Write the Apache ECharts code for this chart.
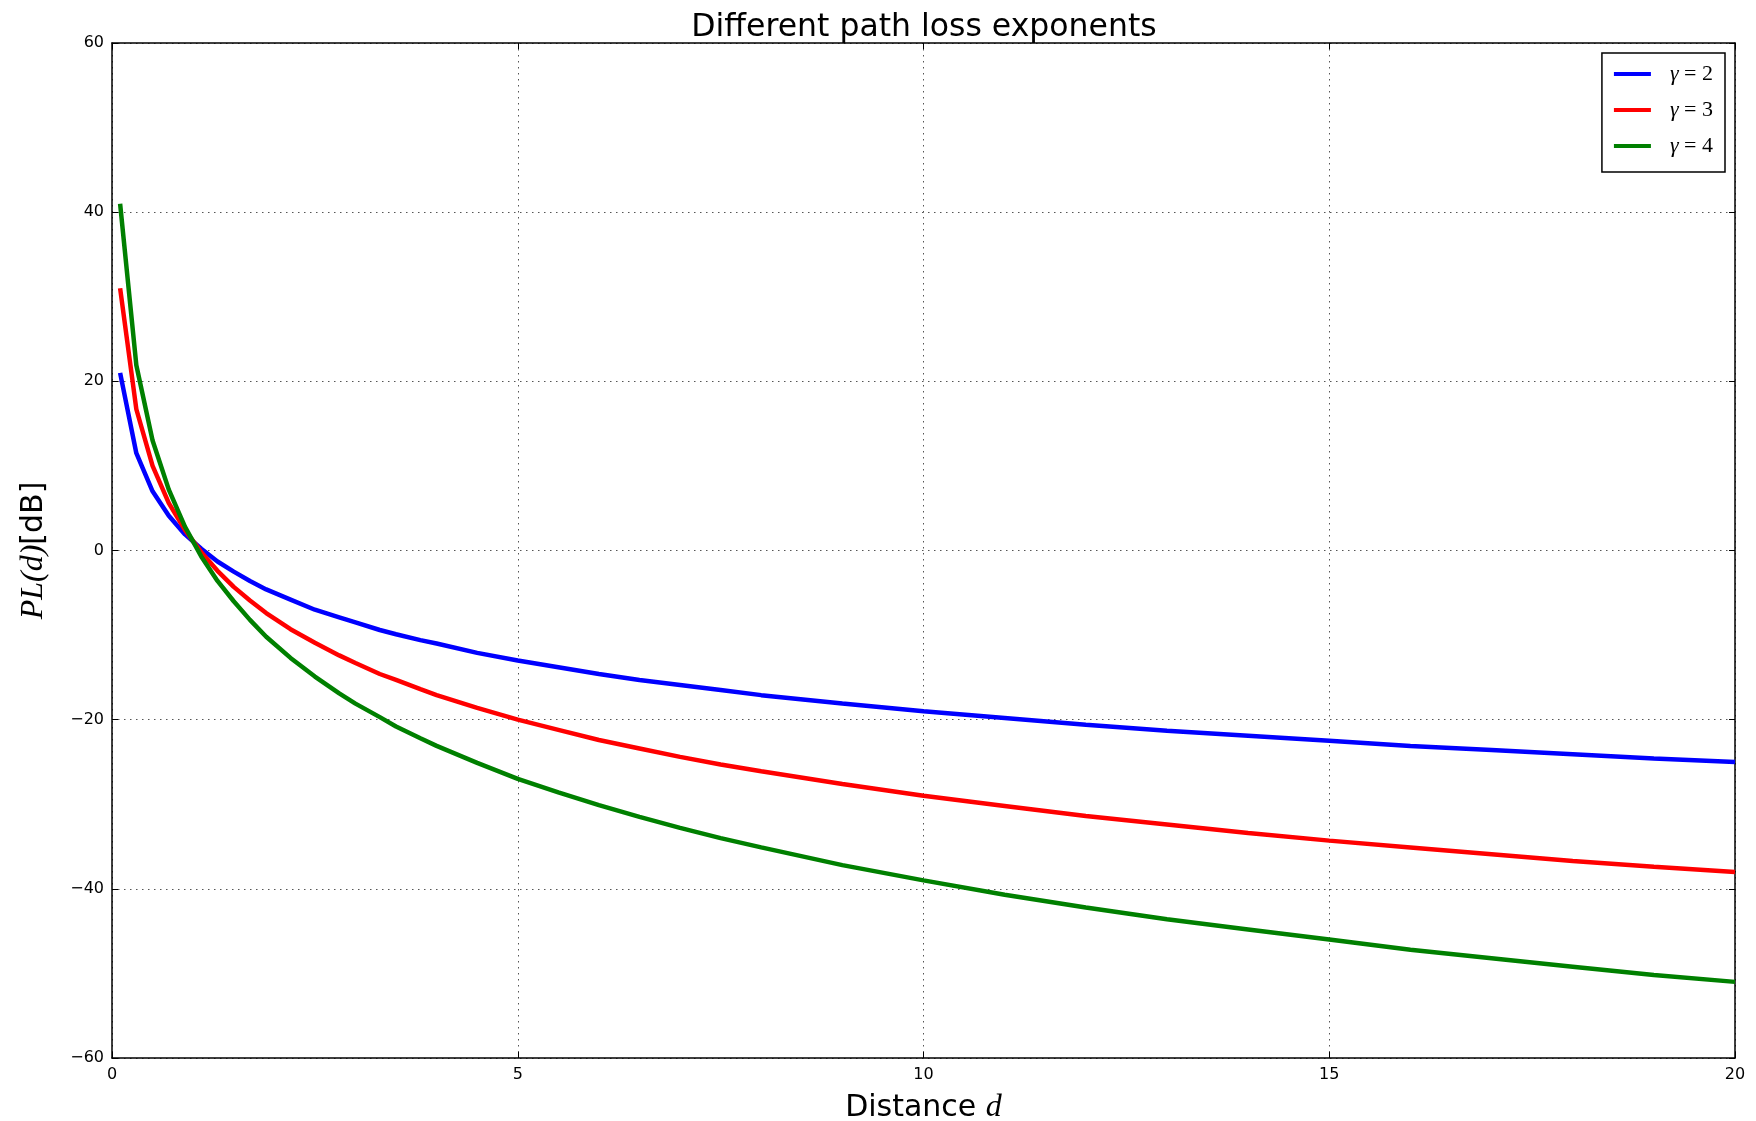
<!DOCTYPE html>
<html>
<head>
<meta charset="utf-8">
<script src="https://cdn.jsdelivr.net/npm/echarts@6/dist/echarts.min.js"></script>
<style>
html,body{margin:0;padding:0;background:#fff;}
#chart{width:1756px;height:1121px;}
</style>
</head>
<body>
<div id="chart"></div>
<script>
// Distance samples d
const distance = [0.1,0.3,0.5,0.7,0.9,1.1,1.3,1.5,1.7,1.9,2.2,2.5,2.8,3,3.3,3.5,3.8,4,4.5,5,5.5,6,6.5,7,7.5,8,9,10,11,12,13,14,15,16,17,18,19,20];
// PL(d) [dB] for gamma = 2
const pl_gamma2 = [21.0,11.5,7.0,4.1,1.9,0.2,-1.3,-2.5,-3.6,-4.6,-5.8,-7.0,-7.9,-8.5,-9.4,-9.9,-10.6,-11.0,-12.1,-13.0,-13.8,-14.6,-15.3,-15.9,-16.5,-17.1,-18.1,-19.0,-19.8,-20.6,-21.3,-21.9,-22.5,-23.1,-23.6,-24.1,-24.6,-25.0];
// PL(d) [dB] for gamma = 3
const pl_gamma3 = [31.0,16.7,10.0,5.6,2.4,-0.2,-2.4,-4.3,-5.9,-7.4,-9.3,-10.9,-12.4,-13.3,-14.6,-15.3,-16.4,-17.1,-18.6,-20.0,-21.2,-22.4,-23.4,-24.4,-25.3,-26.1,-27.6,-29.0,-30.2,-31.4,-32.4,-33.4,-34.3,-35.1,-35.9,-36.7,-37.4,-38.0];
// PL(d) [dB] for gamma = 4
const pl_gamma4 = [41.0,21.9,13.0,7.2,2.8,-0.7,-3.6,-6.0,-8.2,-10.2,-12.7,-14.9,-16.9,-18.1,-19.7,-20.8,-22.2,-23.1,-25.1,-27.0,-28.6,-30.1,-31.5,-32.8,-34.0,-35.1,-37.2,-39.0,-40.7,-42.2,-43.6,-44.8,-46.0,-47.2,-48.2,-49.2,-50.2,-51.0];

const seriesNames = ['γ=2','γ=3','γ=4'];
const seriesColors = ['#0000ff','#ff0000','#008000'];
const seriesValues = [pl_gamma2, pl_gamma3, pl_gamma4];

const xTicks = {min: 0, max: 20, interval: 5};
const yTicks = {min: -60, max: 60, interval: 20};

const chart = echarts.init(document.getElementById('chart'), null, {renderer: 'canvas'});

const minusFmt = v => String(v).replace('-', '\u2212');
const sans = 'DejaVu Sans';
const serif = 'Liberation Serif';

const gridLine = {show: true, lineStyle: {color: '#555', width: 1, type: [1.5, 4.5]}};
const axLine = {show: true, onZero: false, lineStyle: {color: '#000', width: 1.5}};
const tick = {show: true, inside: true, length: 6, lineStyle: {color: '#000', width: 1}};

const option = {
  backgroundColor: '#fff',
  animation: false,
  title: {
    text: 'Different path loss exponents',
    left: 919,
    textAlign: 'center',
    top: 7,
    textStyle: {fontFamily: sans, fontSize: 31.5, fontWeight: 'normal', color: '#000'}
  },
  grid: {left: 112, right: 21, top: 43, bottom: 63, containLabel: false, outerBoundsMode: 'none'},
  legend: {
    orient: 'vertical',
    right: 31,
    top: 53,
    padding: [10, 12, 15, 12],
    borderColor: '#000',
    borderWidth: 1.5,
    backgroundColor: '#fff',
    icon: 'path://M0,0H37V4H0Z',
    itemWidth: 37,
    itemHeight: 20,
    itemGap: 14,
    itemStyle: {borderWidth: 0},
    data: seriesNames,
    formatter: function (name) {
      return '{g|γ}{t| = ' + name.slice(2) + '}';
    },
    textStyle: {
      lineHeight: 20,
      rich: {
        g: {fontFamily: serif, fontStyle: 'italic', fontSize: 22, lineHeight: 20, color: '#000', padding: [0, 0, 0, 14]},
        t: {fontFamily: serif, fontSize: 22, lineHeight: 20, color: '#000'}
      }
    }
  },
  xAxis: [
    {
      type: 'value', position: 'bottom',
      min: xTicks.min, max: xTicks.max, interval: xTicks.interval,
      axisLine: axLine, axisTick: tick, splitLine: gridLine,
      axisLabel: {fontFamily: sans, fontSize: 16, color: '#000', margin: 9, formatter: minusFmt},
      name: '{a|Distance }{b|d}',
      nameLocation: 'middle',
      nameGap: 34,
      nameTextStyle: {
        rich: {
          a: {fontFamily: sans, fontSize: 30, color: '#000'},
          b: {fontFamily: serif, fontStyle: 'italic', fontSize: 32, color: '#000'}
        }
      }
    },
    {
      type: 'value', position: 'top',
      min: xTicks.min, max: xTicks.max, interval: xTicks.interval,
      axisLine: axLine, axisTick: tick, splitLine: {show: false}, axisLabel: {show: false}
    }
  ],
  yAxis: [
    {
      type: 'value', position: 'left',
      min: yTicks.min, max: yTicks.max, interval: yTicks.interval,
      axisLine: axLine, axisTick: tick, splitLine: gridLine,
      axisLabel: {fontFamily: sans, fontSize: 16, color: '#000', margin: 8, formatter: minusFmt},
      name: '{a|PL(d)}{b|[dB]}',
      nameLocation: 'middle',
      nameRotate: 90,
      nameGap: 62,
      nameTextStyle: {
        rich: {
          a: {fontFamily: serif, fontStyle: 'italic', fontSize: 32, color: '#000'},
          b: {fontFamily: sans, fontSize: 30, color: '#000'}
        }
      }
    },
    {
      type: 'value', position: 'right',
      min: yTicks.min, max: yTicks.max, interval: yTicks.interval,
      axisLine: axLine, axisTick: tick, splitLine: {show: false}, axisLabel: {show: false}
    }
  ],
  series: seriesNames.map((name, i) => ({
    name: name,
    type: 'line',
    xAxisIndex: 0,
    yAxisIndex: 0,
    showSymbol: false,
    symbol: 'none',
    smooth: false,
    color: seriesColors[i],
    lineStyle: {color: seriesColors[i], width: 4.5},
    data: distance.map((d, k) => [d, seriesValues[i][k]])
  }))
};

chart.setOption(option);
</script>
</body>
</html>
